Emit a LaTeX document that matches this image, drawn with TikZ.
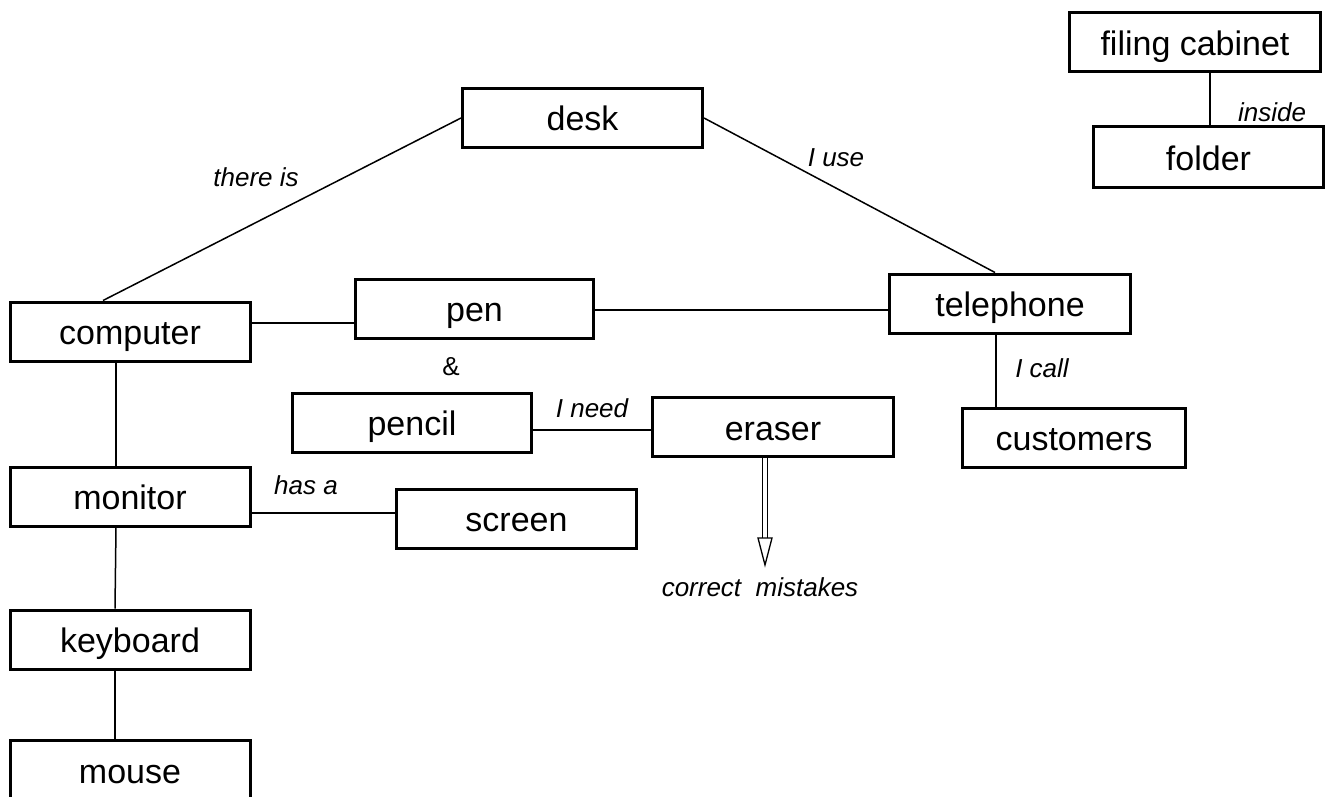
\documentclass[tikz,border=0pt]{standalone}
\usepackage{fontspec}
\setmainfont{Liberation Sans}
\usetikzlibrary{calc}
\begin{document}
\begin{tikzpicture}[x=1pt,y=-1pt,
  box/.style={draw,line width=3pt,inner sep=0pt,minimum width=240pt,minimum height=59pt,text height=26pt,text depth=0pt,font=\fontsize{34}{38}\selectfont},
  lab/.style={inner sep=0pt,font=\fontsize{26}{30}\selectfont\itshape},
  conn/.style={line width=1.5pt}]
\useasboundingbox (0,0) rectangle (1343,797);
\clip (0,0) rectangle (1343,797);
% boxes
\node[box] (desk) at (582.5,118) {desk};
\node[box,minimum width=251pt] (cab) at (1195,42.5) {filing cabinet};
\node[box,minimum width=230pt,minimum height=61pt] (folder) at (1208.5,157) {folder};
\node[box] (computer) at (130,331.5) {computer};
\node[box,minimum width=238pt] (pen) at (474.5,308.5) {pen};
\node[box,minimum width=241pt] (telephone) at (1010,303.5) {telephone};
\node[box,minimum width=223pt] (customers) at (1074,437.5) {customers};
\node[box,minimum width=239pt] (pencil) at (412,422.5) {pencil};
\node[box,minimum width=241pt] (eraser) at (773,427) {eraser};
\node[box] (monitor) at (130,496.5) {monitor};
\node[box,minimum width=240pt] (screen) at (516.5,518.5) {screen};
\node[box] (keyboard) at (130,639.5) {keyboard};
\node[box] (mouse) at (130,770) {mouse};
% connectors
\draw[conn] (desk.west) -- ([xshift=-27pt]computer.north);
\draw[conn] (desk.east) -- ([xshift=-15pt]telephone.north);
\draw[conn] ([yshift=8.5pt]computer.east) -- ([yshift=8.5pt]computer.east -| pen.west);
\draw[conn] ([yshift=-1.5pt]pen.east) -- ([yshift=-1.5pt]pen.east -| telephone.west);
\draw[conn] ([xshift=-14pt]computer.south) -- ([xshift=-14pt]monitor.north);
\draw[conn] ([xshift=-14pt]monitor.south) -- ([xshift=-15pt]keyboard.north);
\draw[conn] ([xshift=-15pt]keyboard.south) -- ([xshift=-15pt]mouse.north);
\draw[conn] ([xshift=-14pt]telephone.south) -- ([xshift=-14pt]telephone.south |- customers.north);
\draw[conn] ([yshift=-7.5pt]pencil.east) -- ([yshift=-7.5pt]pencil.east -| eraser.west);
\draw[conn] ([yshift=-16.5pt]monitor.east) -- ([yshift=-16.5pt]monitor.east -| screen.west);
\draw[conn] ([xshift=15pt]cab.south) -- ([xshift=15pt]cab.south |- folder.north);
% double arrow
\coordinate (tip) at (765,565);
\draw[line width=1.3pt,double distance=4pt] ([xshift=-8pt]eraser.south) -- ([yshift=27pt]tip);
\draw[line width=1.3pt,fill=white] ([yshift=27pt,xshift=-7pt]tip) -- (tip) -- ([yshift=27pt,xshift=7pt]tip) -- cycle;
% labels
\node[lab] (l1) at (256,177) {there is};
\node[lab] (l2) at (836,158) {I use};
\node[lab,font=\fontsize{26}{30}\selectfont] (l3) at (451,367) {\&};
\node[lab] (l4) at (1042,368) {I call};
\node[lab] (l5) at (592,408) {I need};
\node[lab] (l6) at (306,485) {has a};
\node[lab] (l7) at (1272,112) {inside};
\node[lab] (l8) at (760,587) {correct\ \ mistakes};
\end{tikzpicture}
\end{document}
